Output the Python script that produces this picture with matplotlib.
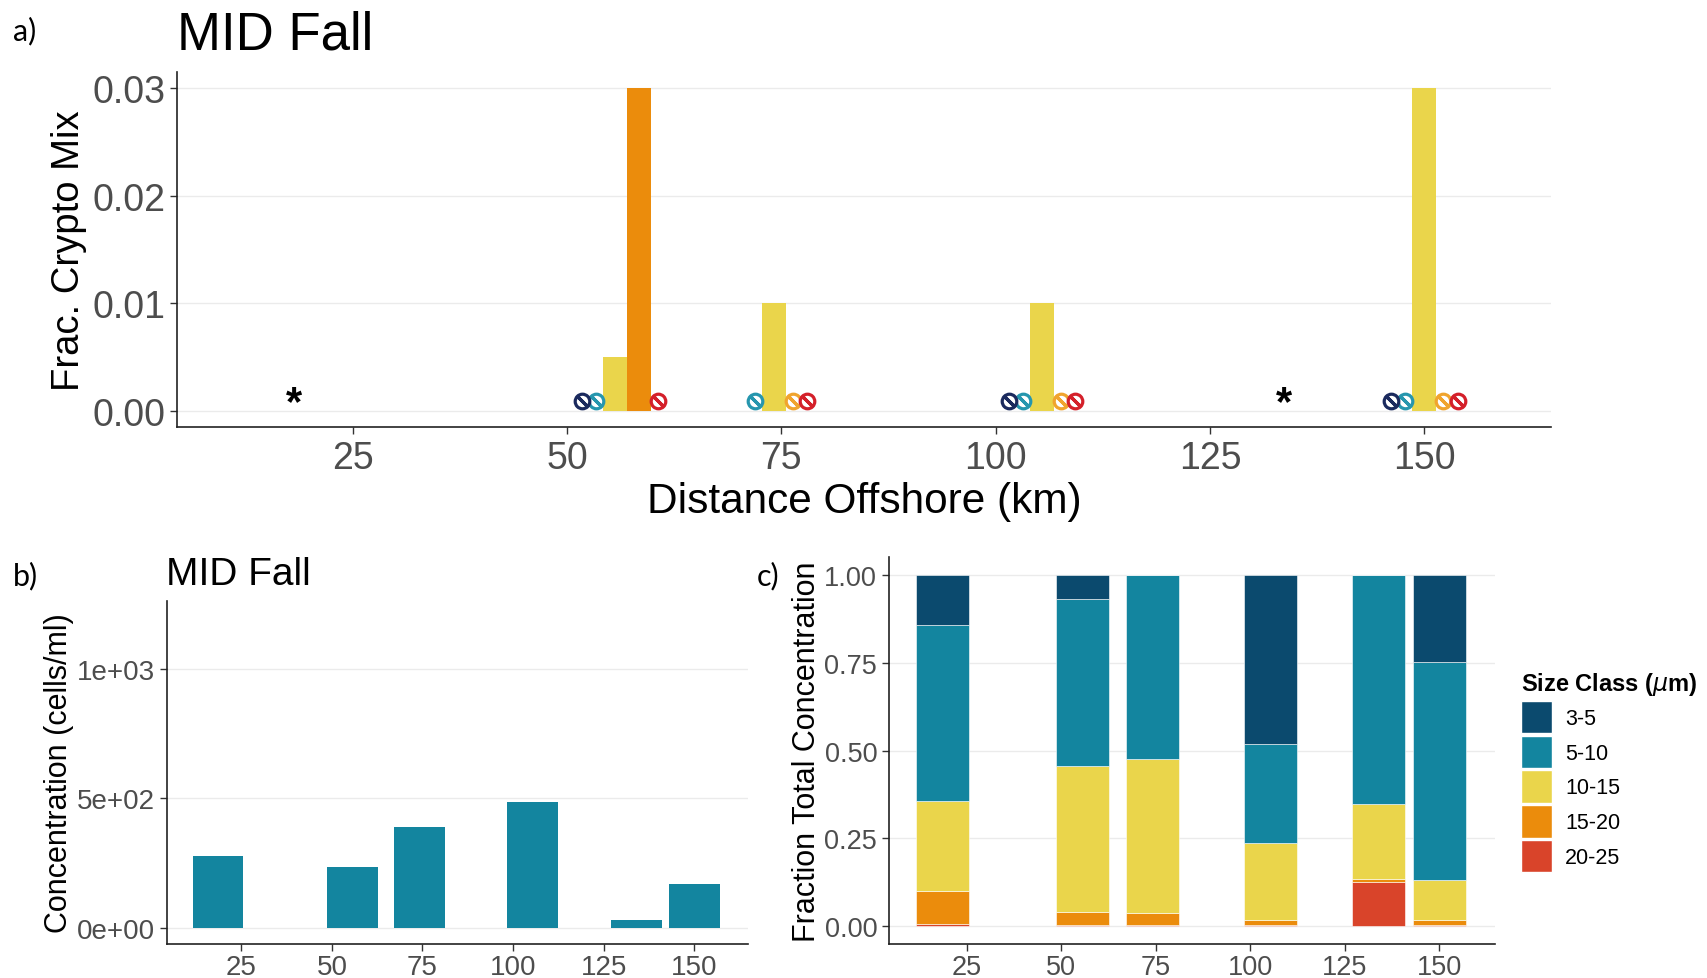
import numpy as np
import matplotlib.pyplot as plt
from matplotlib.patches import Patch

plt.rcParams['font.family'] = ['Liberation Sans', 'DejaVu Sans']

nan = np.nan

# station distances offshore (km)
stations = [18.6, 55.6, 74.1, 105.4, 134.0, 150.0]
size_classes = ['3-5', '5-10', '10-15', '15-20', '20-25']

# a) fraction of cryptophyte mix per size class (nan = class not sampled)
frac_35 = [nan, 0.0, nan, 0.0, nan, 0.0]
frac_510 = [nan, 0.0, 0.0, 0.0, nan, 0.0]
frac_1015 = [nan, 0.005, 0.01, 0.01, nan, 0.03]
frac_1520 = [nan, 0.03, 0.0, 0.0, nan, 0.0]
frac_2025 = [nan, 0.0, 0.0, 0.0, nan, 0.0]

# b) total concentration (cells/ml)
concentration = [278, 237, 390, 486, 33, 170]

# c) fraction of total concentration per size class
conc_35 = [0.143, 0.069, 0.0, 0.481, 0.0, 0.249]
conc_510 = [0.500, 0.476, 0.524, 0.282, 0.653, 0.620]
conc_1015 = [0.256, 0.415, 0.439, 0.220, 0.213, 0.114]
conc_1520 = [0.095, 0.036, 0.033, 0.014, 0.007, 0.012]
conc_2025 = [0.006, 0.004, 0.004, 0.003, 0.127, 0.005]

class_colors = ['#0b4a6e', '#13859f', '#ead54b', '#eb8c0c', '#d9442a']
marker_colors = ['#1b2a5e', '#2696ae', '#ead54b', '#f0a42e', '#d4202a']

tick_grey = '#4d4d4d'
grid_grey = '#ebebeb'
ticks_x = [25, 50, 75, 100, 125, 150]
xlim = (4.5, 164.8)


def style_axes(ax, tick_size, xpad=4):
    for s in ['top', 'right']:
        ax.spines[s].set_visible(False)
    for s in ['left', 'bottom']:
        ax.spines[s].set_color('#222222')
        ax.spines[s].set_linewidth(1.2)
    ax.tick_params(colors='#333333', labelcolor=tick_grey, labelsize=tick_size,
                   length=5, width=1.0)
    ax.tick_params(axis='x', pad=xpad)
    ax.yaxis.grid(True, color=grid_grey, linewidth=1.0)
    ax.set_axisbelow(True)
    ax.set_xticks(ticks_x)
    ax.set_xlim(*xlim)


fig = plt.figure(figsize=(17.07, 9.79), dpi=100)

# ---- a) fraction crypto mix, dodged by size class
ax1 = fig.add_axes([0.1037, 0.5628, 0.805, 0.3626])
style_axes(ax1, 27)
frac_a = [frac_35, frac_510, frac_1015, frac_1520, frac_2025]
w = 2.8
for j, x in enumerate(stations):
    vals = [f[j] for f in frac_a]
    if all(np.isnan(v) for v in vals):
        ax1.text(x - 0.4, 0.0007, '*', ha='center', va='center', fontsize=30,
                 fontweight='bold')
        continue
    present = [i for i, v in enumerate(vals) if v > 0]
    bar_x = {i: x + (i - 2) * w for i in present}
    for i in present:
        ax1.bar(bar_x[i], vals[i], width=w, color=class_colors[i])
    left_edge = min(bar_x.values()) - w / 2
    right_edge = max(bar_x.values()) + w / 2
    zeros = [i for i, v in enumerate(vals) if v == 0]
    left = sorted([i for i in zeros if i < min(present)], reverse=True)
    right = sorted([i for i in zeros if i > max(present)])
    pos = [(i, left_edge - 0.8 - 1.7 * k) for k, i in enumerate(left)]
    pos += [(i, right_edge + 0.8 + 1.7 * k) for k, i in enumerate(right)]
    for i, mx in pos:
        ax1.plot(mx, 0.0009, marker='o', ms=10.5, mfc='white',
                 mec=marker_colors[i], mew=2.3, zorder=3)
        ax1.plot(mx, 0.0009, marker=(2, 2, 45), ms=9.5,
                 mec=marker_colors[i], mew=2.3, zorder=4)
ax1.set_ylim(-0.0015, 0.0315)
ax1.set_yticks([0, 0.01, 0.02, 0.03])
ax1.set_yticklabels(['0.00', '0.01', '0.02', '0.03'])
ax1.set_xlabel('Distance Offshore (km)', fontsize=30.5, labelpad=4)
ax1.set_ylabel('Frac. Crypto Mix', fontsize=27.5, labelpad=4)
fig.text(177 / 1707, 1 - 50 / 979, 'MID Fall', fontsize=38, ha='left',
         va='baseline')

# ---- b) concentration
ax2 = fig.add_axes([0.0978, 0.0347, 0.3404, 0.3504])
style_axes(ax2, 20, xpad=2)
ax2.bar(stations, concentration, width=14, color=class_colors[1])
ax2.set_ylim(-60, 1260)
ax2.set_yticks([0, 500, 1000])
ax2.set_yticklabels(['0e+00', '5e+02', '1e+03'])
ax2.set_ylabel('Concentration (cells/ml)', fontsize=22, labelpad=2)
fig.text(166 / 1707, 1 - 585 / 979, 'MID Fall', fontsize=28, ha='left',
         va='baseline')

# ---- c) fraction total concentration, stacked
ax3 = fig.add_axes([0.5208, 0.0347, 0.355, 0.3953])
style_axes(ax3, 19.5, xpad=2)
conc_c = [conc_35, conc_510, conc_1015, conc_1520, conc_2025]
bottom = np.zeros(len(stations))
for i in range(4, -1, -1):
    ax3.bar(stations, conc_c[i], width=14, bottom=bottom,
            color=class_colors[i], edgecolor='white', linewidth=0.4)
    bottom += np.array(conc_c[i])
ax3.set_ylim(-0.05, 1.05)
ax3.set_yticks([0, 0.25, 0.5, 0.75, 1.0])
ax3.set_yticklabels(['0.00', '0.25', '0.50', '0.75', '1.00'])
ax3.set_ylabel('Fraction Total Concentration', fontsize=22, labelpad=2)

handles = [Patch(facecolor=c, edgecolor='white') for c in class_colors]
leg = fig.legend(handles, size_classes, title=r'Size Class ($\mu$m)',
                 loc='upper left', bbox_to_anchor=(1510 / 1707, 1 - 660 / 979),
                 frameon=False, fontsize=15.5, handlelength=1.45, handleheight=1.95,
                 labelspacing=0.1, handletextpad=0.6, borderpad=0,
                 alignment='left')
leg.get_title().set_fontsize(17)
leg.get_title().set_fontweight('bold')
leg._legend_box.sep = 3

# panel letters
for lbl, (px, py) in {'a)': (13, 40), 'b)': (13, 585), 'c)': (757, 585)}.items():
    fig.text(px / 1707, 1 - py / 979, lbl, fontsize=22, family=['Lato', 'DejaVu Sans'],
             ha='left', va='baseline')

fig.savefig('out.png', dpi=100)
